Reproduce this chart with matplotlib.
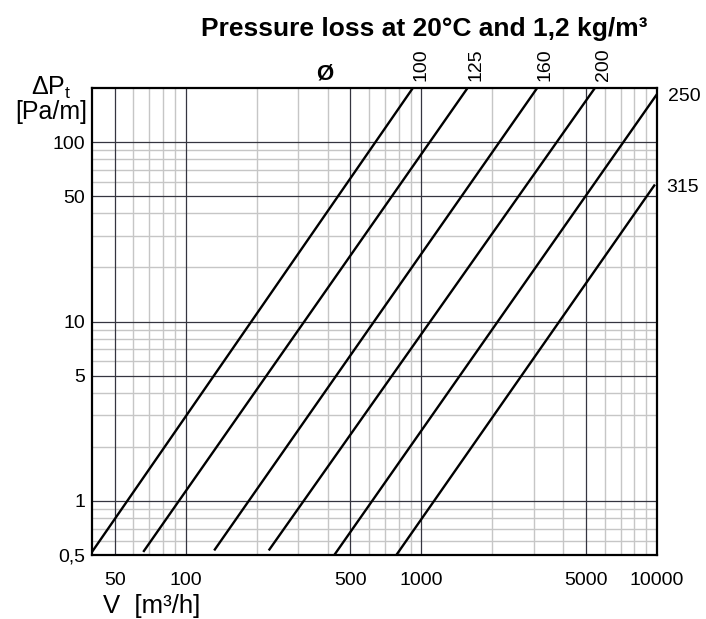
import matplotlib
matplotlib.use("Agg")
import matplotlib.pyplot as plt

plt.rcParams["font.family"] = ["Liberation Sans", "DejaVu Sans"]
plt.rcParams["mathtext.fontset"] = "custom"
plt.rcParams["mathtext.rm"] = "Liberation Sans"
plt.rcParams["mathtext.it"] = "Liberation Sans:italic"

# duct diameters and the two end points of each line
diameters = [100, 125, 160, 200, 250, 315]
v_start = [40, 66, 132, 225, 427, 783]
dp_start = [0.52, 0.52, 0.53, 0.53, 0.5, 0.5]
v_end = [920, 1570, 3100, 5450, 10000, 9800]
dp_end = [200, 200, 200, 200, 185, 58]

x_ticks = [50, 100, 500, 1000, 5000, 10000]
x_tick_labels = ["50", "100", "500", "1000", "5000", "10000"]
y_ticks = [0.5, 1, 5, 10, 50, 100]
y_tick_labels = ["0,5", "1", "5", "10", "50", "100"]

x_lim = (40, 10000)
y_lim = (0.5, 200)

dark = "#353540"
light = "#c6c6c6"

fig = plt.figure(figsize=(7.06, 6.19), dpi=100)
ax = fig.add_axes([0.1303, 0.1034, 0.8003, 0.7544])
ax.set_xscale("log")
ax.set_yscale("log")
ax.set_xlim(*x_lim)
ax.set_ylim(*y_lim)

# grid: light minor lines first, dark major lines on top
x_minor = [m * d for d in (10, 100, 1000) for m in range(2, 10)
           if x_lim[0] < m * d < x_lim[1] and m * d not in x_ticks]
y_minor = [m * d for d in (0.1, 1, 10) for m in range(2, 10)
           if y_lim[0] < m * d <= 100 and m * d not in y_ticks]
for xv in x_minor:
    ax.axvline(xv, color=light, lw=1.0, zorder=1)
for yv in y_minor:
    ax.axhline(yv, color=light, lw=1.0, zorder=1)
for xv in x_ticks[:-1]:
    ax.axvline(xv, color=dark, lw=0.9, zorder=2)
for yv in y_ticks[1:]:
    ax.axhline(yv, color=dark, lw=0.9, zorder=2)

ax.set_xticks(x_ticks)
ax.set_xticklabels(x_tick_labels)
ax.set_yticks(y_ticks)
ax.set_yticklabels(y_tick_labels)
ax.minorticks_off()
ax.tick_params(axis="x", length=0, pad=12, labelsize=14)
ax.tick_params(axis="y", length=0, pad=5, labelsize=14)
for s in ax.spines.values():
    s.set_linewidth(1.6)
    s.set_zorder(5)

for d, x0, y0, x1, y1 in zip(diameters, v_start, dp_start, v_end, dp_end):
    ax.plot([x0, x1], [y0, y1], color="black", lw=1.7, zorder=4,
            solid_capstyle="butt", clip_on=False)
    if x1 >= x_lim[1] * 0.95:
        ax.annotate(str(d), xy=(x1, y1), xytext=(8, -2), textcoords="offset points",
                    ha="left", va="center", fontsize=14)
    else:
        ax.annotate(str(d), xy=(x1, y1), xytext=(6, 5), textcoords="offset points",
                    ha="center", va="bottom", rotation=90, fontsize=14)

fig.text(0.460, 0.880, "Ø", ha="center", va="center", fontsize=16, fontweight="bold")
fig.text(0.6006, 0.953, "Pressure loss at 20°C and 1,2 kg/m³", ha="center",
         va="center", fontsize=19, fontweight="bold")
fig.text(0.072, 0.858, r"ΔP$_\mathrm{t}$", ha="center", va="center", fontsize=18)
fig.text(0.072, 0.819, "[Pa/m]", ha="center", va="center", fontsize=18)
fig.text(0.146, 0.021, "V  [m³/h]", ha="left", va="center", fontsize=18.5)

fig.savefig("out.png", dpi=100)
